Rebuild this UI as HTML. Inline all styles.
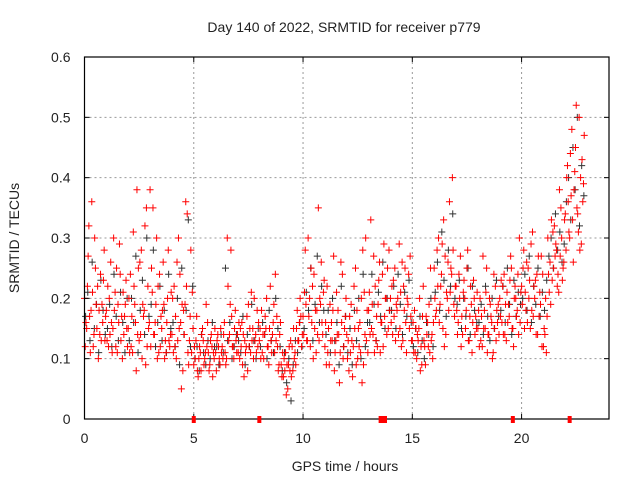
<!DOCTYPE html>
<html><head><meta charset="utf-8"><style>
body{margin:0;background:#fff}
svg{display:block;font-family:"Liberation Sans",sans-serif}
</style></head><body>
<svg id="c" width="640" height="480" xmlns="http://www.w3.org/2000/svg">
<text x="344" y="32" font-size="14" text-anchor="middle" fill="#222">Day 140 of 2022, SRMTID for receiver p779</text>
<text x="345" y="471" font-size="14" text-anchor="middle" fill="#222">GPS time / hours</text>
<text transform="translate(19,238) rotate(-90)" font-size="14" text-anchor="middle" fill="#222">SRMTID / TECUs</text>
<g id="grid"></g><g id="blk"></g><g id="red"></g><g id="axes"></g>
</svg>
<script>
const xTicks=[0,5,10,15,20];
const yTicks=[0,0.1,0.2,0.3,0.4,0.5,0.6];
const yTickLabels=["0","0.1","0.2","0.3","0.4","0.5","0.6"];
const redA=[20,15,32,18,12,25,22,14,19,28,18,12,26,15,21,11,29,17,14,23,15,24,11,19,38,13,28,17,9,22,38,21,14,30,11,17,26,13,20,12,14,22,10,30,16,8,19,34,13,11,9,13,7,11,15,10,12,8,14,11,11,14,9,12,16,10,13,28,12,18,14,10,16,7,12,19,11,15,13,18,13,18,10,15,12,22,14,11,17,9,9,7,11,5,8,12,10,15,13,17,17,28,13,20,16,24,11,35,19,14,12,22,9,16,27,13,18,11,24,15,14,8,19,12,25,10,16,6,21,13,18,33,14,22,12,26,16,29,20,15,20,14,25,18,29,12,22,16,19,27,13,18,10,15,12,22,9,16,11,14,25,18,30,22,15,27,20,36,24,19,22,16,27,14,20,25,13,19,23,17,15,20,12,18,25,14,17,11,22,16,20,16,24,13,19,27,15,22,18,30,22,28,18,25,15,31,20,24,17,27,12,20,30,26,23,32,28,21,35,25,34,42,30,48,38,52,31,40,36];
const redB=[12,22,17,36,14,19,10,24,16,13,13,20,16,30,12,19,24,10,17,15,20,12,31,16,14,26,10,18,35,15,12,35,16,10,24,15,19,11,28,14,20,12,26,15,5,18,36,11,17,21,12,17,10,8,13,11,16,9,12,10,8,12,15,10,11,30,14,17,10,13,11,15,9,13,17,12,21,10,14,12,15,11,14,20,9,13,16,24,12,14,7,10,4,9,13,8,11,18,16,12,14,19,30,12,22,15,18,13,26,21,16,11,19,13,8,21,14,26,10,17,10,17,13,22,9,15,11,28,14,18,21,15,27,13,19,11,24,17,14,28,16,23,13,20,15,26,18,11,24,17,16,11,14,20,9,13,17,12,25,10,20,28,16,24,33,14,26,21,40,17,18,24,12,21,15,28,17,11,20,15,18,13,27,15,11,20,16,24,13,19,17,22,14,21,17,25,12,20,24,16,19,15,26,20,29,17,23,14,21,12,15,11,24,19,31,27,22,38,30,26,28,36,44,33,41,35,50,29,39];
const redC=[16,27,11,21,30,15,18,13,23,17,22,14,11,18,25,16,13,21,19,12,11,17,22,8,25,14,19,32,12,16,25,14,19,22,12,18,10,16,13,21,11,17,13,24,19,14,22,9,28,15,10,8,12,14,9,19,11,13,7,15,13,10,11,14,9,22,19,12,15,11,16,12,14,11,8,15,13,20,11,16,10,14,17,12,15,11,19,13,8,16,11,8,9,12,7,15,9,13,20,14,21,13,17,25,10,18,14,20,16,23,9,15,13,18,11,14,6,16,12,20,13,11,7,15,18,12,20,9,30,11,14,19,11,17,23,16,12,20,25,18,22,17,19,14,21,13,25,20,15,13,11,15,13,8,17,12,14,19,13,16,17,22,19,29,12,21,18,25,28,22,14,20,17,23,18,13,22,16,14,21,12,17,15,21,14,19,10,15,18,14,23,14,19,16,23,15,20,17,14,21,25,21,16,23,18,22,14,27,19,24,14,17,21,33,25,29,24,27,23,33,40,31,37,26,45,34,28,43,47];
const blackA=[17,21,13,26,15,19,11,23,18,14,15,19,12,24,17,13,21,16,11,20,13,20,16,27,11,18,23,14,30,17,19,28,12,16,22,13,18,11,24,15,16,12,20,9,25,14,18,33,12,22,10,12,8,14,11,9,13,10,16,12,12,9,14,11,25,13,16,10,12,14,13,11,17,9,14,12,19,13,10,15,12,16,14,10,18,13,11,20,15,12,8,11,6,10,3,9,13,11,16,12,15,21,18,25,13,19,27,16,22,18,14,18,11,20,13,16,9,22,12,17,11,15,9,18,13,20,10,24,12,16,16,24,19,13,21,17,26,15,20,18,18,22,15,24,19,14,21,17,23,16,12,15,11,17,13,10,16,14,20,12,21,26,18,31,23,17,28,22,34,20,19,23,15,20,17,25,14,22,18,16,16,19,14,22,17,13,20,15,23,17,18,22,16,25,19,14,23,17,21,19,20,24,18,27,16,22,19,25,17,21,18,23,27,30,25,34,28,31,26,29,36,40,33,45,38,50,32,42,37];
const zeroTimes=[5.0,8.0,13.55,13.65,13.75,19.6,22.2];
const X0=84.5,X1=609,Y0=419,Y1=57,XMAX=24,YMAX=0.6;
const sx=t=>X0+(X1-X0)*t/XMAX, sy=v=>Y0-(Y0-Y1)*v/YMAX;
const NS="http://www.w3.org/2000/svg";
function mk(tag,attrs,parent){const e=document.createElementNS(NS,tag);for(const k in attrs)e.setAttribute(k,attrs[k]);parent.appendChild(e);return e;}
const grid=document.getElementById('grid'),axes=document.getElementById('axes');
xTicks.forEach(t=>{
 if(t>0){const g=mk('line',{x1:sx(t),x2:sx(t),y1:Y0,y2:Y1,stroke:'#999','stroke-dasharray':'2,3'},grid);
 
 }
 mk('line',{x1:sx(t),x2:sx(t),y1:Y0,y2:Y0-5,stroke:'#000'},axes);
 mk('line',{x1:sx(t),x2:sx(t),y1:Y1,y2:Y1+5,stroke:'#000'},axes);
 const l=mk('text',{x:sx(t),y:Y0+24,'font-size':14,'text-anchor':'middle',fill:'#222'},axes);l.textContent=t;
 
 
});
yTicks.forEach((v,i)=>{
 if(v>0&&v<YMAX){const g=mk('line',{x1:X0,x2:X1,y1:sy(v),y2:sy(v),stroke:'#999','stroke-dasharray':'2,3'},grid);
 
 }
 mk('line',{x1:X0,x2:X0+5,y1:sy(v),y2:sy(v),stroke:'#000'},axes);
 mk('line',{x1:X1,x2:X1-5,y1:sy(v),y2:sy(v),stroke:'#000'},axes);
 const l=mk('text',{x:X0-14,y:sy(v)+5,'font-size':14,'text-anchor':'end',fill:'#222'},axes);l.textContent=yTickLabels[i];
 
 
});
const fr=mk('rect',{x:X0,y:Y1,width:X1-X0,height:Y0-Y1,fill:'none',stroke:'#000','stroke-width':1.2},axes);


function plus(parent,t,v,col,name){
 const x=sx(t),y=sy(v/100);
 const p=mk('path',{d:`M${x-3.5},${y}h7M${x},${y-3.5}v7`,stroke:col,'stroke-width':1,fill:'none'},parent);
 
 
}
const blk=document.getElementById('blk'),red=document.getElementById('red');
blackA.forEach((v,i)=>plus(blk,i*0.1+0.05,v,'#333','black-point'));
redA.forEach((v,i)=>plus(red,i*0.1,v,'#f00','red-point'));
redB.forEach((v,i)=>plus(red,i*0.1+0.033,v,'#f00','red-point'));
redC.forEach((v,i)=>plus(red,i*0.1+0.066,v,'#f00','red-point'));
zeroTimes.forEach(t=>{
 const r=mk('rect',{x:sx(t)-2,y:Y0-3,width:4,height:7,fill:'#f00'},axes);
 
 
});
</script>
</body></html>
